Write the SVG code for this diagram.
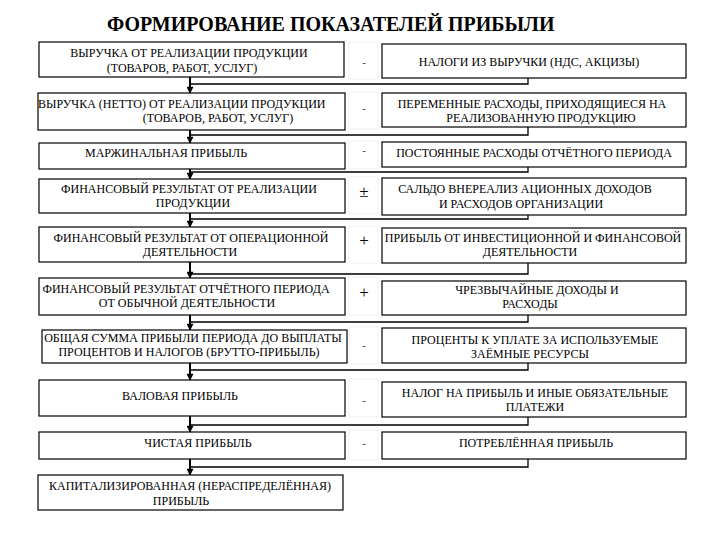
<svg xmlns="http://www.w3.org/2000/svg" width="720" height="540" viewBox="0 0 720 540">
<defs>
<style>
.bx{fill:#fff;stroke:#000;stroke-width:1.2}
.cell{fill:none;stroke:#efefef;stroke-width:1}
.t{font-family:'Liberation Serif','Times New Roman',serif;font-size:12px;fill:#000}
.m{text-anchor:middle}
.s{font-family:'Liberation Serif','Times New Roman',serif;font-size:17px;fill:#000;text-anchor:middle}
.d{font-family:'Liberation Serif','Times New Roman',serif;font-size:11px;fill:#333;text-anchor:middle}
.h{font-family:'Liberation Serif','Times New Roman',serif;font-size:20px;font-weight:bold;fill:#000}
.ln{fill:none;stroke:#000;stroke-width:1.3}
.ar{fill:none;stroke:#000;stroke-width:2;marker-end:url(#ah)}
</style>
<marker id="ah" viewBox="0 0 10 10" refX="9" refY="5" markerWidth="4" markerHeight="3.5" orient="auto" markerUnits="strokeWidth">
<path d="M0,0 L10,5 L0,10 z" fill="#000"/>
</marker>
</defs>
<rect width="720" height="540" fill="#fff"/>
<text class="h" x="107" y="31">ФОРМИРОВАНИЕ ПОКАЗАТЕЛЕЙ ПРИБЫЛИ</text>

<g id="cells">
<rect class="cell" x="349" y="42" width="29" height="37"/>
<rect class="cell" x="349" y="92" width="29" height="37"/>
<rect class="cell" x="349" y="141" width="29" height="28"/>
<rect class="cell" x="349" y="177" width="29" height="37"/>
<rect class="cell" x="349" y="226" width="29" height="37"/>
<rect class="cell" x="349" y="277" width="29" height="38"/>
<rect class="cell" x="349" y="327" width="29" height="37"/>
<rect class="cell" x="349" y="379" width="29" height="38"/>
<rect class="cell" x="349" y="430" width="29" height="30"/>
</g>

<g id="connectors">
<polyline class="ln" points="528,78 528,84 190,84"/>
<line class="ar" x1="190" y1="77" x2="190" y2="93"/>
<polyline class="ln" points="528,127 528,135 190,135"/>
<line class="ar" x1="190" y1="130" x2="190" y2="143"/>
<polyline class="ln" points="528,167 528,172 190,172"/>
<line class="ar" x1="190" y1="169" x2="190" y2="179"/>
<polyline class="ln" points="528,215 528,219 190,219"/>
<line class="ar" x1="190" y1="213" x2="190" y2="227"/>
<polyline class="ln" points="528,263 528,274 190,274"/>
<line class="ar" x1="190" y1="262" x2="190" y2="278"/>
<polyline class="ln" points="528,315 528,322 190,322"/>
<line class="ar" x1="190" y1="315" x2="190" y2="330"/>
<polyline class="ln" points="528,363 528,370 190,370"/>
<line class="ar" x1="190" y1="363" x2="190" y2="380"/>
<polyline class="ln" points="528,417 528,425 190,425"/>
<line class="ar" x1="190" y1="416" x2="190" y2="432"/>
<polyline class="ln" points="528,459 528,467 190,467"/>
<line class="ar" x1="190" y1="459" x2="190" y2="475"/>
</g>

<g id="n1"><rect class="bx" x="39" y="42" width="305" height="35"/>
<text class="t m" x="189" y="57">ВЫРУЧКА ОТ РЕАЛИЗАЦИИ ПРОДУКЦИИ</text>
<text class="t m" x="182" y="72">(ТОВАРОВ, РАБОТ, УСЛУГ)</text></g>
<g id="n2"><rect class="bx" x="38" y="93" width="307" height="37"/>
<text class="t" x="38" y="108">ВЫРУЧКА (НЕТТО) ОТ РЕАЛИЗАЦИИ ПРОДУКЦИИ</text>
<text class="t m" x="218" y="122">(ТОВАРОВ, РАБОТ, УСЛУГ)</text></g>
<g id="n3"><rect class="bx" x="39" y="143" width="306" height="26"/>
<text class="t" x="85" y="157">МАРЖИНАЛЬНАЯ  ПРИБЫЛЬ</text></g>
<g id="n4"><rect class="bx" x="39" y="179" width="306" height="34"/>
<text class="t m" x="189" y="193">ФИНАНСОВЫЙ РЕЗУЛЬТАТ  ОТ РЕАЛИЗАЦИИ</text>
<text class="t m" x="193" y="207">ПРОДУКЦИИ</text></g>
<g id="n5"><rect class="bx" x="39" y="227" width="306" height="35"/>
<text class="t m" x="191" y="242">ФИНАНСОВЫЙ РЕЗУЛЬТАТ  ОТ ОПЕРАЦИОННОЙ</text>
<text class="t m" x="190" y="256">ДЕЯТЕЛЬНОСТИ</text></g>
<g id="n6"><rect class="bx" x="39" y="278" width="306" height="37"/>
<text class="t m" x="186" y="293">ФИНАНСОВЫЙ РЕЗУЛЬТАТ ОТЧЁТНОГО ПЕРИОДА</text>
<text class="t m" x="187" y="307">ОТ ОБЫЧНОЙ  ДЕЯТЕЛЬНОСТИ</text></g>
<g id="n7"><rect class="bx" x="42" y="330" width="305" height="33"/>
<text class="t m" x="193" y="342">ОБЩАЯ СУММА ПРИБЫЛИ ПЕРИОДА ДО ВЫПЛАТЫ</text>
<text class="t m" x="189" y="356">ПРОЦЕНТОВ И НАЛОГОВ  (БРУТТО-ПРИБЫЛЬ)</text></g>
<g id="n8"><rect class="bx" x="39" y="380" width="306" height="36"/>
<text class="t m" x="180" y="400">ВАЛОВАЯ ПРИБЫЛЬ</text></g>
<g id="n9"><rect class="bx" x="39" y="432" width="306" height="27"/>
<text class="t m" x="198" y="447">ЧИСТАЯ ПРИБЫЛЬ</text></g>
<g id="n10"><rect class="bx" x="38" y="475" width="305" height="35"/>
<text class="t m" x="190" y="490">КАПИТАЛИЗИРОВАННАЯ (НЕРАСПРЕДЕЛЁННАЯ)</text>
<text class="t m" x="181" y="505">ПРИБЫЛЬ</text></g>

<g id="r1"><rect class="bx" x="382" y="44" width="304" height="34"/>
<text class="t m" x="529" y="66">НАЛОГИ ИЗ ВЫРУЧКИ (НДС, АКЦИЗЫ)</text></g>
<g id="r2"><rect class="bx" x="382" y="93" width="304" height="34"/>
<text class="t m" x="532" y="108">ПЕРЕМЕННЫЕ РАСХОДЫ, ПРИХОДЯЩИЕСЯ НА</text>
<text class="t m" x="541" y="122">РЕАЛИЗОВАННУЮ ПРОДУКЦИЮ</text></g>
<g id="r3"><rect class="bx" x="382" y="142" width="304" height="25"/>
<text class="t m" x="534" y="157">ПОСТОЯННЫЕ РАСХОДЫ ОТЧЁТНОГО ПЕРИОДА</text></g>
<g id="r4"><rect class="bx" x="382" y="178" width="304" height="37"/>
<text class="t m" x="525" y="193">САЛЬДО ВНЕРЕАЛИЗ АЦИОННЫХ  ДОХОДОВ</text>
<text class="t m" x="521" y="208">И РАСХОДОВ ОРГАНИЗАЦИИ</text></g>
<g id="r5"><rect class="bx" x="382" y="228" width="304" height="35"/>
<text class="t m" x="533" y="242">ПРИБЫЛЬ ОТ ИНВЕСТИЦИОННОЙ И ФИНАНСОВОЙ</text>
<text class="t m" x="530" y="256">ДЕЯТЕЛЬНОСТИ</text></g>
<g id="r6"><rect class="bx" x="382" y="281" width="304" height="34"/>
<text class="t m" x="537" y="294">ЧРЕЗВЫЧАЙНЫЕ ДОХОДЫ И</text>
<text class="t m" x="530" y="308">РАСХОДЫ</text></g>
<g id="r7"><rect class="bx" x="382" y="328" width="304" height="35"/>
<text class="t m" x="535" y="344">ПРОЦЕНТЫ К УПЛАТЕ ЗА ИСПОЛЬЗУЕМЫЕ</text>
<text class="t m" x="530" y="358">ЗАЁМНЫЕ РЕСУРСЫ</text></g>
<g id="r8"><rect class="bx" x="382" y="382" width="304" height="35"/>
<text class="t m" x="535" y="397">НАЛОГ НА ПРИБЫЛЬ И ИНЫЕ ОБЯЗАТЕЛЬНЫЕ</text>
<text class="t m" x="535" y="411">ПЛАТЕЖИ</text></g>
<g id="r9"><rect class="bx" x="382" y="432" width="304" height="27"/>
<text class="t m" x="536" y="447">ПОТРЕБЛЁННАЯ ПРИБЫЛЬ</text></g>

<g id="signs">
<text class="d" x="364" y="66">-</text>
<text class="d" x="364" y="112">-</text>
<text class="d" x="364" y="154">-</text>
<text class="s" x="364" y="197">±</text>
<text class="s" x="364" y="246">+</text>
<text class="s" x="364" y="298">+</text>
<text class="d" x="364" y="349">-</text>
<text class="d" x="364" y="404">-</text>
<text class="d" x="364" y="447">-</text>
</g>
</svg>
